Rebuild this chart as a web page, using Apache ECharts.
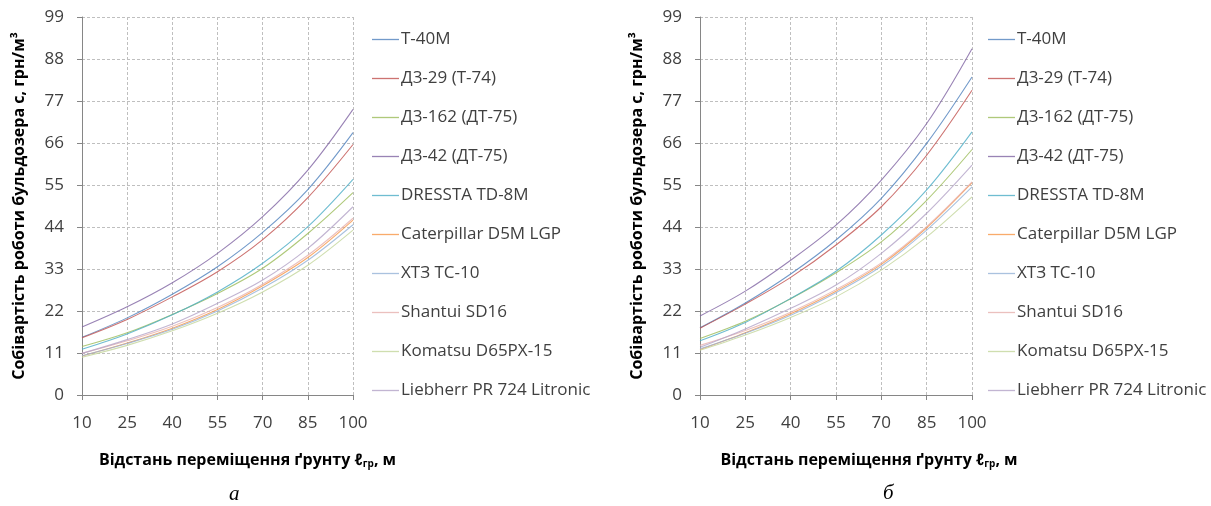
<!DOCTYPE html>
<html>
<head>
<meta charset="utf-8">
<script src="https://cdn.jsdelivr.net/npm/echarts@6/dist/echarts.min.js"></script>
<style>
html,body{margin:0;padding:0;background:#fff;}
#chart{width:1211px;height:506px;}
</style>
</head>
<body>
<div id="chart"></div>
<script>
// Distance categories (m)
const categories = ['10', '25', '40', '55', '70', '85', '100'];
const seriesNames = ['Т-40М', 'Д3-29 (Т-74)', 'Д3-162 (ДТ-75)', 'Д3-42 (ДТ-75)', 'DRESSTA TD-8M',
  'Caterpillar D5M LGP', 'ХТЗ ТС-10', 'Shantui SD16', 'Komatsu D65PX-15', 'Liebherr PR 724 Litronic'];
const seriesColors = ['#4F81BD', '#C0504D', '#9BBB59', '#8064A2', '#4BACC6',
  '#F79646', '#95B3D7', '#E6B0AE', '#C3D69B', '#B3A2C7'];
const yTickMax = 99;
const yTickStep = 11;

// Chart "а"
const a_T40M     = [15.1, 20.2, 26.4, 33.6, 42.6, 53.8, 68.7];
const a_DZ29     = [15.0, 19.8, 25.7, 32.3, 40.7, 51.7, 65.6];
const a_DZ162    = [12.7, 16.3, 21.1, 26.6, 33.2, 42.3, 53.0];
const a_DZ42     = [17.8, 23.1, 29.4, 37.1, 46.7, 58.9, 74.8];
const a_Dressta  = [12.0, 16.0, 21.0, 27.0, 34.5, 44.1, 56.5];
const a_Cat      = [10.2, 13.6, 17.5, 22.4, 28.6, 36.0, 45.8];
const a_XTZ      = [10.3, 13.5, 17.2, 22.0, 28.0, 35.3, 44.6];
const a_Shantui  = [10.9, 14.2, 18.0, 22.9, 29.0, 36.6, 46.3];
const a_Komatsu  = [9.9, 13.0, 16.8, 21.4, 27.0, 34.0, 43.2];
const a_Liebherr = [10.9, 14.5, 18.6, 24.0, 30.1, 38.4, 49.3];

// Chart "б"
const b_T40M     = [17.6, 24.1, 31.7, 40.6, 51.5, 65.9, 83.3];
const b_DZ29     = [17.5, 23.8, 30.8, 39.3, 49.3, 62.8, 79.8];
const b_DZ162    = [14.8, 19.3, 25.2, 32.0, 40.1, 51.0, 64.3];
const b_DZ42     = [20.7, 27.2, 35.3, 44.5, 56.3, 71.1, 90.7];
const b_Dressta  = [14.2, 19.0, 25.3, 32.4, 41.9, 53.7, 68.9];
const b_Cat      = [11.9, 16.3, 21.3, 27.2, 34.2, 43.8, 55.6];
const b_XTZ      = [12.1, 16.2, 20.9, 26.8, 33.7, 43.2, 54.5];
const b_Shantui  = [13.0, 16.9, 21.7, 27.6, 34.6, 44.1, 55.8];
const b_Komatsu  = [11.7, 15.7, 20.3, 25.7, 32.7, 41.4, 51.9];
const b_Liebherr = [12.5, 17.3, 22.7, 28.8, 37.1, 47.6, 60.2];

const dataA = [a_T40M, a_DZ29, a_DZ162, a_DZ42, a_Dressta, a_Cat, a_XTZ, a_Shantui, a_Komatsu, a_Liebherr];
const dataB = [b_T40M, b_DZ29, b_DZ162, b_DZ42, b_Dressta, b_Cat, b_XTZ, b_Shantui, b_Komatsu, b_Liebherr];

const FONT = 'Open Sans';
const TXT = '#404040';

function xAxisCfg(gi, shift) {
  return {
    type: 'category', gridIndex: gi, data: categories, boundaryGap: false,
    axisLine: { lineStyle: { color: '#868686', width: 1 } },
    axisTick: { show: true, length: 5, lineStyle: { color: '#868686' } },
    axisLabel: { fontFamily: FONT, fontSize: 17, color: TXT, margin: 20 },
    splitLine: { show: true, lineStyle: { color: '#BFBFBF', type: [3, 2], width: 1 } },
    name: 'Відстань переміщення ґрунту ℓ{sub|гр}, м',
    nameLocation: 'middle', nameGap: 57,
    nameTextStyle: {
      fontFamily: FONT, fontSize: 16, fontWeight: 'bold', color: '#000',
      padding: [0, 0, 0, shift],
      rich: { sub: { fontFamily: FONT, fontSize: 10, fontWeight: 'bold', color: '#000', verticalAlign: 'bottom', padding: [7, 0, 0, 0] } }
    }
  };
}
function yAxisCfg(gi) {
  return {
    type: 'value', gridIndex: gi, min: 0, max: yTickMax, interval: yTickStep,
    axisLine: { show: true, lineStyle: { color: '#868686', width: 1 } },
    axisTick: { show: true, length: 5, lineStyle: { color: '#868686' } },
    axisLabel: { fontFamily: FONT, fontSize: 17, color: TXT, margin: 18 },
    splitLine: { show: true, lineStyle: { color: '#BFBFBF', type: [3, 2], width: 1 } },
    name: 'Собівартість роботи бульдозера с, грн/м³',
    nameLocation: 'middle', nameGap: 55, nameRotate: 90,
    nameTextStyle: { fontFamily: FONT, fontSize: 16, fontWeight: 'bold', color: '#000' }
  };
}
function seriesFor(data, gi) {
  return data.map((vals, i) => ({
    type: 'line', name: seriesNames[i], xAxisIndex: gi, yAxisIndex: gi,
    data: vals, smooth: 0.35, symbol: 'none', showSymbol: false,
    lineStyle: { color: seriesColors[i], width: 1.1, opacity: 0.8 },
    itemStyle: { color: seriesColors[i] },
    emphasis: { disabled: true }
  }));
}
function legendCfg(left) {
  return {
    orient: 'vertical', left: left, top: 26,
    icon: 'rect', itemWidth: 27, itemHeight: 1.3, itemGap: 22,
    data: seriesNames, selectedMode: false,
    itemStyle: { opacity: 0.8 },
    textStyle: { fontFamily: FONT, fontSize: 17, color: TXT, padding: [0, 0, 0, -3] }
  };
}

const chart = echarts.init(document.getElementById('chart'), null, { renderer: 'canvas' });
chart.setOption({
  backgroundColor: '#fff',
  animation: false,
  title: [
    { text: 'а', left: 224, top: 479, textStyle: { fontFamily: 'Liberation Serif', fontStyle: 'italic', fontWeight: 'normal', fontSize: 21, color: '#000' } },
    { text: 'б', left: 878, top: 478, textStyle: { fontFamily: 'Liberation Serif', fontStyle: 'italic', fontWeight: 'normal', fontSize: 21, color: '#000' } }
  ],
  grid: [
    { left: 82, top: 17, width: 271, height: 378 },
    { left: 700, top: 17, width: 272, height: 378 }
  ],
  legend: [legendCfg(367), legendCfg(983)],
  xAxis: [xAxisCfg(0, 60), xAxisCfg(1, 66)],
  yAxis: [yAxisCfg(0), yAxisCfg(1)],
  series: seriesFor(dataA, 0).concat(seriesFor(dataB, 1))
});
</script>
</body>
</html>
